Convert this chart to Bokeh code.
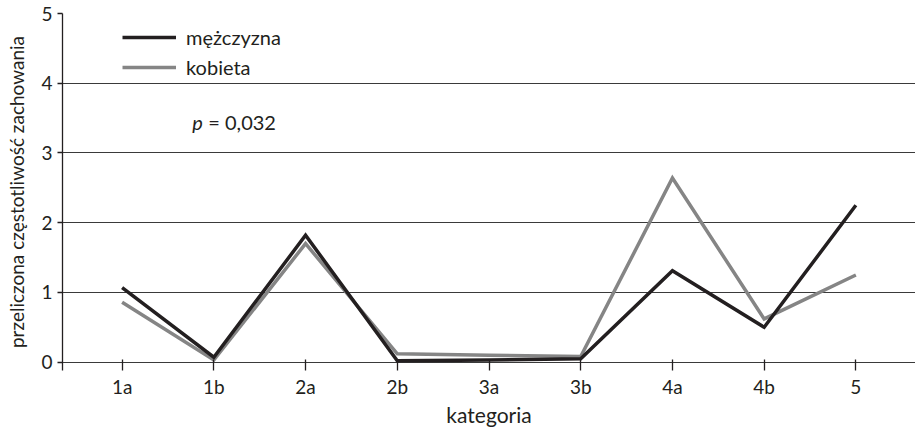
from bokeh.plotting import figure
from bokeh.models import FactorRange, Range1d, FixedTicker, Legend, LegendItem, Label
from bokeh.embed import file_html
from bokeh.resources import INLINE

# behaviour categories and rescaled frequencies per sex
categories = ["1a", "1b", "2a", "2b", "3a", "3b", "4a", "4b", "5"]
men = [1.07, 0.07, 1.82, 0.02, 0.03, 0.05, 1.31, 0.50, 2.25]
women = [0.86, 0.03, 1.70, 0.12, 0.10, 0.08, 2.64, 0.62, 1.25]
y_ticks = [0, 1, 2, 3, 4, 5]
series_names = ["mężczyzna", "kobieta"]
p_symbol = "p"
p_value_text = "= 0,032"

FONT = "Lato"
INK = "#231f20"
GREY = "#858585"

p = figure(
    width=915, height=431,
    x_range=FactorRange(*categories, range_padding=0.15, range_padding_units="absolute"),
    y_range=Range1d(-0.12, 5),
    output_backend="svg", toolbar_location=None,
    min_border_left=62, min_border_right=0, min_border_top=13, min_border_bottom=61,
)
p.outline_line_color = None
p.background_fill_color = "white"

r_w = p.line(categories, women, line_color=GREY, line_width=3.5, line_join="miter")
r_m = p.line(categories, men, line_color=INK, line_width=3.5, line_join="miter")

# axes
p.xaxis.axis_line_color = None
p.xaxis.major_tick_in = 11
p.xaxis.major_tick_out = 0
p.xaxis.major_tick_line_color = INK
p.xaxis.major_tick_line_width = 1.3
p.xaxis.major_label_standoff = 4
p.xaxis.axis_label = "kategoria"
p.xaxis.axis_label_standoff = 1

p.yaxis.ticker = FixedTicker(ticks=y_ticks)
p.yaxis.minor_tick_line_color = None
p.yaxis.major_tick_in = 0
p.yaxis.major_tick_out = 5
p.yaxis.major_tick_line_color = INK
p.yaxis.major_tick_line_width = 1.3
p.yaxis.axis_line_color = INK
p.yaxis.axis_line_width = 1.3
p.yaxis.major_label_standoff = 5
p.yaxis.axis_label = "przeliczona częstotliwość zachowania"
p.yaxis.axis_label_standoff = 10

for ax in (p.xaxis, p.yaxis):
    ax.major_label_text_font = FONT
    ax.major_label_text_font_size = "19px"
    ax.major_label_text_color = INK
    ax.axis_label_text_font = FONT
    ax.axis_label_text_font_style = "normal"
    ax.axis_label_text_color = INK
p.xaxis.axis_label_text_font_size = "21px"
p.yaxis.axis_label_text_font_size = "19px"

p.xgrid.grid_line_color = None
p.ygrid.ticker = FixedTicker(ticks=y_ticks)
p.ygrid.grid_line_color = "#3a3a3a"
p.ygrid.grid_line_width = 1.2

legend = Legend(
    items=[LegendItem(label=series_names[0], renderers=[r_m]),
           LegendItem(label=series_names[1], renderers=[r_w])],
    location=(60, 291), orientation="vertical",
    glyph_width=54, glyph_height=20, label_height=20, spacing=6,
    label_standoff=10, padding=0, margin=0,
    border_line_color=None, background_fill_alpha=0,
    label_text_font=FONT, label_text_font_size="20px", label_text_color=INK,
)
p.add_layout(legend)

# significance note (x in categorical synthetic units: "1a" sits at 0.5)
p.add_layout(Label(x=1.265, y=3.45, text=p_symbol,
                   text_font=FONT, text_font_style="italic", text_font_size="20px",
                   text_color=INK, text_baseline="middle"))
p.add_layout(Label(x=1.265, y=3.45, x_offset=16, text=p_value_text,
                   text_font=FONT, text_font_size="20px",
                   text_color=INK, text_baseline="middle"))

open("out.html", "w").write(file_html(p, INLINE))
